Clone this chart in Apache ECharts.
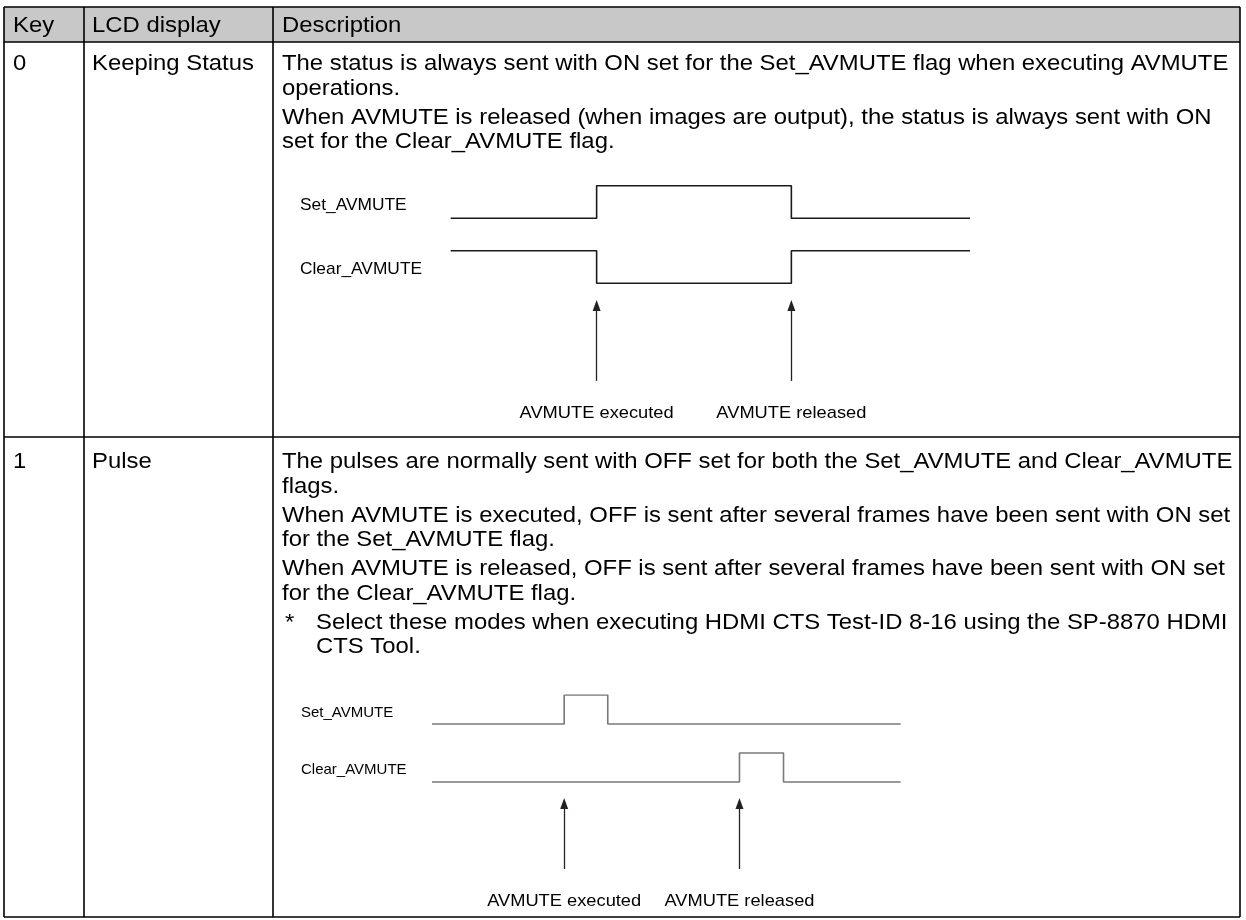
<!DOCTYPE html>
<html><head><meta charset="utf-8">
<script src="https://cdn.jsdelivr.net/npm/echarts@6/dist/echarts.min.js"></script>
<style>html,body{margin:0;padding:0;background:#fff}#c{width:1246px;height:920px}</style>
</head><body><div id="c"></div>
<script>
// ---------------- data ----------------
const headers = ['Key', 'LCD display', 'Description'];
const keys = ['0', '1'];
const lcdNames = ['Keeping Status', 'Pulse'];
const desc0 = [
  ['The status is always sent with ON set for the Set_AVMUTE flag when executing AVMUTE', 'operations.'],
  ['When AVMUTE is released (when images are output), the status is always sent with ON', 'set for the Clear_AVMUTE flag.']
];
const desc1 = [
  ['The pulses are normally sent with OFF set for both the Set_AVMUTE and Clear_AVMUTE', 'flags.'],
  ['When AVMUTE is executed, OFF is sent after several frames have been sent with ON set', 'for the Set_AVMUTE flag.'],
  ['When AVMUTE is released, OFF is sent after several frames have been sent with ON set', 'for the Clear_AVMUTE flag.']
];
const note1 = ['Select these modes when executing HDMI CTS Test-ID 8-16 using the SP-8870 HDMI', 'CTS Tool.'];
const signalNames = ['Set_AVMUTE', 'Clear_AVMUTE'];
const eventNames = ['AVMUTE executed', 'AVMUTE released'];
// waveforms: [time (0-100), level]; Clear uses levels 0/1, Set uses levels 2/3
const keepSet   = [[0, 2], [28.1, 2], [28.1, 3], [65.6, 3], [65.6, 2], [100, 2]];
const keepClear = [[0, 1], [28.1, 1], [28.1, 0], [65.6, 0], [65.6, 1], [100, 1]];
const keepEvents = [28.1, 65.6];
const pulseSet   = [[0, 2], [28.2, 2], [28.2, 3], [37.5, 3], [37.5, 2], [100, 2]];
const pulseClear = [[0, 0], [65.6, 0], [65.6, 1], [75.0, 1], [75.0, 0], [100, 0]];
const pulseEvents = [28.2, 65.6];
const arrowFoot = -3;
const arrowHeads = [-0.68, -0.74];

// ---------------- layout ----------------
const FONT = '"Liberation Sans", Arial, Helvetica, sans-serif';
const BODY = 22, BODY_SX = 1.085;
const TL = 4, C1 = 84, C2 = 273, TR = 1240;
const TT = 7, HB = 42, R0B = 437, TB = 917;
const LINE = 24.5, PARA = 4.5;

const graphics = [];
graphics.push({type: 'rect', shape: {x: TL, y: TT, width: TR - TL, height: HB - TT}, style: {fill: '#c8c8c8'}, silent: true});
function hline(y) { graphics.push({type: 'line', shape: {x1: TL, y1: y, x2: TR, y2: y}, style: {stroke: '#000', lineWidth: 1.6}, silent: true}); }
function vline(x) { graphics.push({type: 'line', shape: {x1: x, y1: TT, x2: x, y2: TB}, style: {stroke: '#000', lineWidth: 1.6}, silent: true}); }
[TT, HB, R0B, TB].forEach(hline);
[TL, C1, C2, TR].forEach(vline);

function txt(s, x, y, size, sx, align) {
  graphics.push({type: 'text', x: x, y: y, scaleX: sx || 1, silent: true,
    style: {text: s, font: size + 'px ' + FONT, fill: '#000', align: align || 'left', verticalAlign: 'middle'}});
}
// header
const colX = [TL + 9, C1 + 8, C2 + 9];
headers.forEach((h, i) => txt(h, colX[i], (TT + HB) / 2 + 1, BODY, BODY_SX));
// row 0
let y = HB + 22;
txt(keys[0], colX[0], y, BODY, BODY_SX);
txt(lcdNames[0], colX[1], y, BODY, BODY_SX);
desc0.forEach((para, pi) => {
  para.forEach(line => { txt(line, colX[2], y, BODY, BODY_SX); y += LINE; });
  y += PARA;
});
// row 1
y = R0B + 25;
txt(keys[1], colX[0], y, BODY, BODY_SX);
txt(lcdNames[1], colX[1], y, BODY, BODY_SX);
desc1.forEach(para => {
  para.forEach(line => { txt(line, colX[2], y, BODY, BODY_SX); y += LINE; });
  y += PARA;
});
txt('*', colX[2] + 3, y, BODY, BODY_SX);
note1.forEach(line => { txt(line, colX[2] + 34, y, BODY, BODY_SX); y += LINE; });

// ---------------- chart ----------------
const chart = echarts.init(document.getElementById('c'), null, {renderer: 'canvas'});

function arrows(events, head) {
  return {
    silent: true, animation: false,
    label: {show: false},
    lineStyle: {color: '#222', width: 1.3, type: 'solid'},
    emphasis: {disabled: true},
    data: events.map(t => [
      {coord: [t, arrowFoot], symbol: 'none'},
      {coord: [t, head], symbol: 'triangle', symbolSize: [8, 11]}
    ])
  };
}
function wave(data, grid, color, ml) {
  const s = {type: 'line', xAxisIndex: grid, yAxisIndex: grid, data: data, showSymbol: false, symbol: 'none',
    lineStyle: {color: color, width: 1.6}, silent: true, animation: false};
  if (ml) s.markLine = ml;
  return s;
}
const axisHidden = {show: false};
chart.setOption({
  backgroundColor: '#fff',
  animation: false,
  grid: [
    {left: 450.7, top: 185.7, width: 519.3, height: 195.2, containLabel: false, outerBoundsMode: 'none'},
    {left: 432, top: 695, width: 468.7, height: 174, containLabel: false, outerBoundsMode: 'none'}
  ],
  xAxis: [
    Object.assign({type: 'value', gridIndex: 0, min: 0, max: 100}, axisHidden),
    Object.assign({type: 'value', gridIndex: 1, min: 0, max: 100}, axisHidden)
  ],
  yAxis: [
    Object.assign({type: 'value', gridIndex: 0, min: -3, max: 3}, axisHidden),
    Object.assign({type: 'value', gridIndex: 1, min: -3, max: 3}, axisHidden)
  ],
  series: [
    wave(keepSet, 0, '#1a1a1a'),
    wave(keepClear, 0, '#1a1a1a', arrows(keepEvents, arrowHeads[0])),
    wave(pulseSet, 1, '#7a7a7a'),
    wave(pulseClear, 1, '#7a7a7a', arrows(pulseEvents, arrowHeads[1]))
  ],
  graphic: graphics
});

// signal labels and event labels, placed from the axes
const sigCfg = [
  {grid: 0, size: 17, sx: 1.02, x: 300, levels: [2.41, 0.44], events: keepEvents},
  {grid: 1, size: 15, sx: 1.0, x: 301, levels: [2.4, 0.42], events: pulseEvents}
];
sigCfg.forEach(c => {
  signalNames.forEach((n, i) => {
    const p = chart.convertToPixel({gridIndex: c.grid}, [0, c.levels[i]]);
    txt(n, c.x, p[1], c.size, c.sx);
  });
  c.events.forEach((t, i) => {
    const p = chart.convertToPixel({gridIndex: c.grid}, [t, arrowFoot]);
    txt(eventNames[i], p[0], p[1] + 32, 17, 1.075, 'center');
  });
});
chart.setOption({graphic: graphics});
</script>
</body></html>
